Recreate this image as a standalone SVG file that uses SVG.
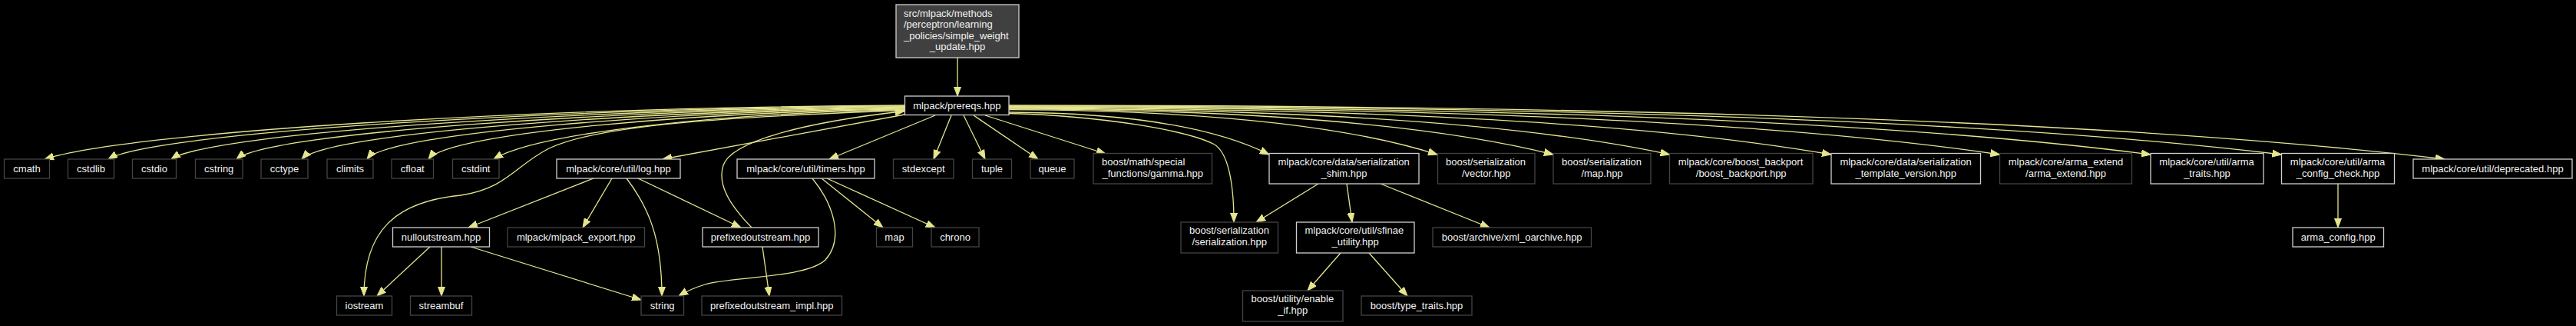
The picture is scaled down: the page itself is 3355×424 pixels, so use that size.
<svg xmlns="http://www.w3.org/2000/svg" width="3355" height="424" viewBox="0 0 3355 424">
<style>
  .bg { fill: #000000; }
  .node rect { fill: #000000; stroke: #444444; stroke-width: 1.3; }
  .node.doc rect { stroke: #cfcfcf; }
  .node.root rect { fill: #404040; stroke: #cfcfcf; }
  .node text { fill: #f2f2f2; font-family: "Liberation Sans", Arial, sans-serif; font-size: 13px; }
  .c { text-anchor: middle; }
  .edges path { fill: none; stroke: #e5e58e; stroke-width: 1.3; marker-end: url(#arr); }
</style>
<defs>
  <marker id="arr" markerUnits="userSpaceOnUse" markerWidth="12" markerHeight="10" refX="12" refY="5" orient="auto" viewBox="0 0 12 10">
    <path d="M0,0.5 L12,5 L0,9.5 z" fill="#e5e58e" stroke="#e5e58e" stroke-width="1"/>
  </marker>
</defs>
<rect class="bg" x="0" y="0" width="3355" height="424"/>

<g class="edges">
  <!-- root -> prereqs -->
  <path d="M1247,75 L1247,125"/>
  <!-- prereqs -> left fan -->
  <path d="M1178,137 C675,140 170,172 58,207"/>
  <path d="M1178,137.8 C720,141 200,172 141,207"/>
  <path d="M1178,138.6 C765,142 275,172 223,207"/>
  <path d="M1178,139.4 C805,143 350,172 308,207"/>
  <path d="M1178,140.2 C845,144 425,172 393,207"/>
  <path d="M1178,141 C880,145 505,172 478,207"/>
  <path d="M1178,141.8 C915,146 585,172 558,207"/>
  <path d="M1178,142.6 C945,147 700,172 643,207"/>
  <!-- prereqs -> iostream -->
  <path d="M1178,143.5 C950,152 780,162 715,193 C670,216 660,245 600,254 C515,262 474,300 474,385"/>
  <!-- prereqs -> log -->
  <path d="M1178,149 L863,207"/>
  <!-- prereqs -> timers -->
  <path d="M1218,150 L1080,207"/>
  <!-- prereqs -> stdexcept -->
  <path d="M1239,150 L1216,207"/>
  <!-- prereqs -> tuple -->
  <path d="M1255,150 L1283,207"/>
  <!-- prereqs -> queue -->
  <path d="M1268,150 L1352,207"/>
  <!-- prereqs -> gamma -->
  <path d="M1283,150 L1440,200"/>
  <!-- prereqs -> right fan -->
  <path d="M1314,146 C1517,147 1609,179 1653,201"/>
  <path d="M1314,142.6 C1649,144 1800,178 1872,201"/>
  <path d="M1314,141.8 C1739,143 1931,178 2023,201"/>
  <path d="M1314,141 C1830,142 2063,177 2174.5,201"/>
  <path d="M1314,140.2 C1957,141 2246,177 2385,201"/>
  <path d="M1314,139.4 C2088,140 2437,176 2604.5,201"/>
  <path d="M1314,138.6 C2206,139 2608,176 2801,201"/>
  <path d="M1314,137.8 C2308,138 2756,175 2971.5,201"/>
  <path d="M1314,137 C2436,137 2941,178 3184,207"/>
  <!-- prereqs -> boost/serialization/serialization.hpp -->
  <path d="M1314,147.5 C1440,151 1545,170 1580,187 C1600,197 1607,240 1607,289"/>
  <!-- prefixedoutstream -> prereqs -->
  <path d="M979,296 C950,266 934,240 942,215 C952,185 1040,160 1178,144.5"/>
  <!-- log -> children -->
  <path d="M773,232 L610,296"/>
  <path d="M797,232 L759,296"/>
  <path d="M816,232 C845,270 862,310 862,385"/>
  <path d="M831,232 L965,296"/>
  <!-- nulloutstream -> -->
  <path d="M560,321 L491,385"/>
  <path d="M575,321 L575,385"/>
  <path d="M613,321 L835,390"/>
  <!-- prefixedoutstream -> impl -->
  <path d="M993,321 L1002,385"/>
  <!-- timers -> -->
  <path d="M1070,232 L1150,296"/>
  <path d="M1077,232 L1218,296"/>
  <path d="M1058,232 C1085,265 1100,310 1075,338 C1050,362 950,360 918,370 C902,375 892,380 884,385"/>
  <!-- shim -> -->
  <path d="M1717,239 L1636,289"/>
  <path d="M1754,239 L1761,289"/>
  <path d="M1798,239 L1940,296"/>
  <!-- sfinae -> -->
  <path d="M1746,329 L1703,378"/>
  <path d="M1783,329 L1833,385"/>
  <!-- arma_config_check -> arma_config -->
  <path d="M3045,239 L3045,296"/>
</g>

<g id="node_root" class="node root">
  <rect x="1167" y="6" width="160" height="69"/>
  <text x="1177" y="21.5">src/mlpack/methods</text>
  <text x="1177" y="36">/perceptron/learning</text>
  <text x="1177" y="50.5">_policies/simple_weight</text>
  <text class="c" x="1247" y="65">_update.hpp</text>
</g>
<g id="node_prereqs" class="node doc">
  <rect x="1178.5" y="125" width="135.5" height="24.5"/>
  <text class="c" x="1246.3" y="141.5">mlpack/prereqs.hpp</text>
</g>

<g id="node_cmath" class="node"><rect x="5.5" y="207" width="59" height="25"/><text class="c" x="35" y="223.5">cmath</text></g>
<g id="node_cstdlib" class="node"><rect x="88.5" y="207" width="60" height="25"/><text class="c" x="118.5" y="223.5">cstdlib</text></g>
<g id="node_cstdio" class="node"><rect x="172.5" y="207" width="57" height="25"/><text class="c" x="201" y="223.5">cstdio</text></g>
<g id="node_cstring" class="node"><rect x="254.5" y="207" width="61.5" height="25"/><text class="c" x="285.2" y="223.5">cstring</text></g>
<g id="node_cctype" class="node"><rect x="340" y="207" width="61" height="25"/><text class="c" x="370.5" y="223.5">cctype</text></g>
<g id="node_climits" class="node"><rect x="426" y="207" width="60" height="25"/><text class="c" x="456" y="223.5">climits</text></g>
<g id="node_cfloat" class="node"><rect x="510" y="207" width="54.5" height="25"/><text class="c" x="537.2" y="223.5">cfloat</text></g>
<g id="node_cstdint" class="node"><rect x="589.5" y="207" width="60.5" height="25"/><text class="c" x="619.7" y="223.5">cstdint</text></g>
<g id="node_log" class="node doc"><rect x="725" y="207" width="161" height="25"/><text class="c" x="805.5" y="223.5">mlpack/core/util/log.hpp</text></g>
<g id="node_timers" class="node doc"><rect x="960" y="207" width="179" height="25"/><text class="c" x="1049.5" y="223.5">mlpack/core/util/timers.hpp</text></g>
<g id="node_stdexcept" class="node"><rect x="1163.5" y="207" width="78.5" height="25"/><text class="c" x="1202.7" y="223.5">stdexcept</text></g>
<g id="node_tuple" class="node"><rect x="1266.5" y="207" width="51" height="25"/><text class="c" x="1292" y="223.5">tuple</text></g>
<g id="node_queue" class="node"><rect x="1342" y="207" width="57" height="25"/><text class="c" x="1370.5" y="223.5">queue</text></g>
<g id="node_gamma" class="node"><rect x="1424" y="199.5" width="154.5" height="39.5"/>
  <text x="1435" y="214.5">boost/math/special</text><text class="c" x="1501.2" y="229.5">_functions/gamma.hpp</text></g>
<g id="node_shim" class="node doc"><rect x="1653" y="199.5" width="195" height="39.5"/>
  <text x="1664.5" y="214.5">mlpack/core/data/serialization</text><text class="c" x="1750.5" y="229.5">_shim.hpp</text></g>
<g id="node_vector" class="node"><rect x="1872.5" y="199.5" width="126.5" height="39.5"/>
  <text x="1883" y="214.5">boost/serialization</text><text class="c" x="1935.7" y="229.5">/vector.hpp</text></g>
<g id="node_maphpp" class="node"><rect x="2023" y="199.5" width="127" height="39.5"/>
  <text x="2034" y="214.5">boost/serialization</text><text class="c" x="2086.5" y="229.5">/map.hpp</text></g>
<g id="node_backport" class="node"><rect x="2174.5" y="199.5" width="186.5" height="39.5"/>
  <text x="2185.7" y="214.5">mlpack/core/boost_backport</text><text class="c" x="2267.7" y="229.5">/boost_backport.hpp</text></g>
<g id="node_template_version" class="node doc"><rect x="2385" y="199.5" width="194.5" height="39.5"/>
  <text x="2396.4" y="214.5">mlpack/core/data/serialization</text><text class="c" x="2482.2" y="229.5">_template_version.hpp</text></g>
<g id="node_arma_extend" class="node"><rect x="2604.5" y="199.5" width="172" height="39.5"/>
  <text x="2615.7" y="214.5">mlpack/core/arma_extend</text><text class="c" x="2690.5" y="229.5">/arma_extend.hpp</text></g>
<g id="node_arma_traits" class="node doc"><rect x="2801" y="199.5" width="147" height="39.5"/>
  <text x="2812.3" y="214.5">mlpack/core/util/arma</text><text class="c" x="2874.5" y="229.5">_traits.hpp</text></g>
<g id="node_arma_config_check" class="node doc"><rect x="2971.5" y="199.5" width="147" height="39.5"/>
  <text x="2982.8" y="214.5">mlpack/core/util/arma</text><text class="c" x="3045" y="229.5">_config_check.hpp</text></g>
<g id="node_deprecated" class="node doc"><rect x="3143" y="207" width="207" height="25"/><text class="c" x="3246.5" y="223.5">mlpack/core/util/deprecated.hpp</text></g>

<g id="node_nulloutstream" class="node doc"><rect x="511.5" y="296" width="126" height="25"/><text class="c" x="574.5" y="312.5">nulloutstream.hpp</text></g>
<g id="node_mlpack_export" class="node"><rect x="661" y="296" width="178.5" height="25"/><text class="c" x="750.2" y="312.5">mlpack/mlpack_export.hpp</text></g>
<g id="node_prefixedoutstream" class="node doc"><rect x="915" y="296" width="151" height="25"/><text class="c" x="990.5" y="312.5">prefixedoutstream.hpp</text></g>
<g id="node_map" class="node"><rect x="1141.5" y="296" width="47" height="25"/><text class="c" x="1165" y="312.5">map</text></g>
<g id="node_chrono" class="node"><rect x="1213" y="296" width="62" height="25"/><text class="c" x="1244" y="312.5">chrono</text></g>
<g id="node_serialization" class="node"><rect x="1538" y="289" width="126.5" height="40"/>
  <text x="1549" y="304">boost/serialization</text><text class="c" x="1601.2" y="319">/serialization.hpp</text></g>
<g id="node_sfinae" class="node doc"><rect x="1688.5" y="289" width="153.5" height="40"/>
  <text x="1699.5" y="304">mlpack/core/util/sfinae</text><text class="c" x="1765.2" y="319">_utility.hpp</text></g>
<g id="node_xml_oarchive" class="node"><rect x="1866" y="296" width="206.5" height="25"/><text class="c" x="1969.2" y="312.5">boost/archive/xml_oarchive.hpp</text></g>
<g id="node_arma_config" class="node doc"><rect x="2986" y="296" width="118.5" height="25"/><text class="c" x="3045.2" y="312.5">arma_config.hpp</text></g>

<g id="node_iostream" class="node"><rect x="438.5" y="385" width="72" height="25"/><text class="c" x="474.5" y="401.5">iostream</text></g>
<g id="node_streambuf" class="node"><rect x="534.5" y="385" width="80" height="25"/><text class="c" x="574.5" y="401.5">streambuf</text></g>
<g id="node_string" class="node"><rect x="835" y="385" width="55.5" height="25"/><text class="c" x="862.7" y="401.5">string</text></g>
<g id="node_prefixedoutstream_impl" class="node"><rect x="914" y="385" width="182.5" height="25"/><text class="c" x="1005.2" y="401.5">prefixedoutstream_impl.hpp</text></g>
<g id="node_enable_if" class="node"><rect x="1618.5" y="378" width="130.5" height="40"/>
  <text x="1629.5" y="393">boost/utility/enable</text><text class="c" x="1683.7" y="408">_if.hpp</text></g>
<g id="node_type_traits" class="node"><rect x="1773" y="385" width="144" height="25"/><text class="c" x="1845" y="401.5">boost/type_traits.hpp</text></g>
</svg>
